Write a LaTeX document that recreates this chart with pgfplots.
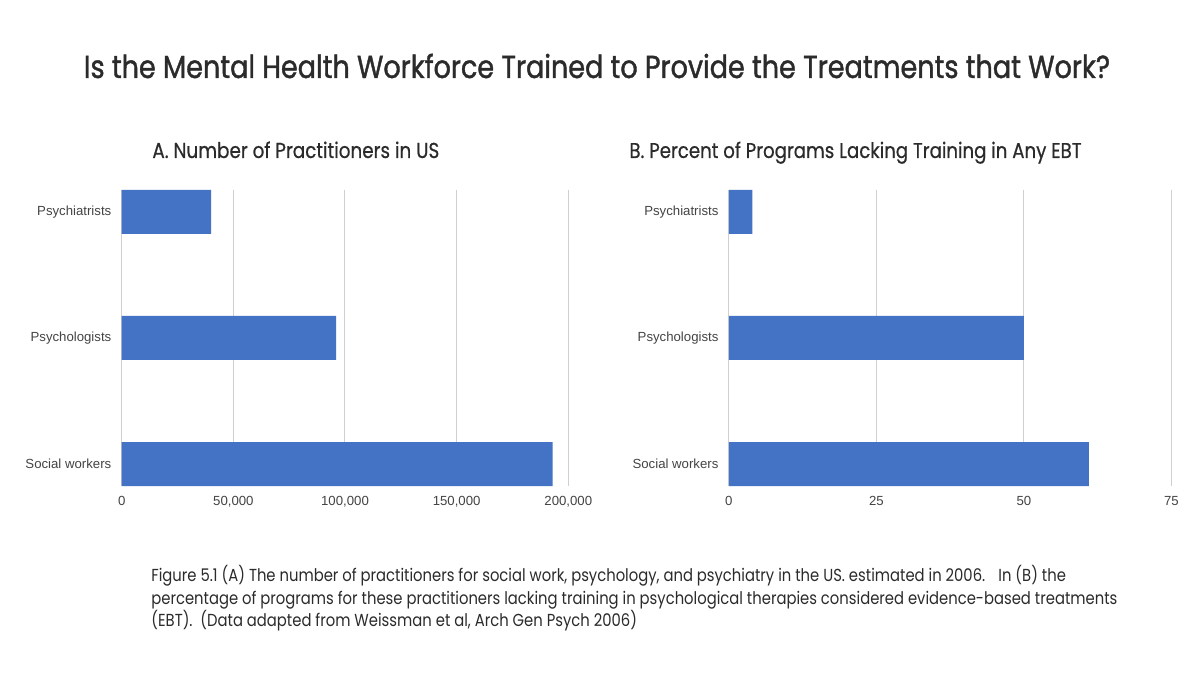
\documentclass[border=0pt]{standalone}
\usepackage{fontspec}
\usepackage{pgfplots}
\pgfplotsset{compat=1.18}
\setmainfont{Liberation Sans}
\newfontfamily\futura[FakeStretch=0.85]{Poppins}
\newfontfamily\futuramed[FakeStretch=0.85,FakeBold=1.2]{Poppins}
\newfontfamily\futurasub[FakeStretch=0.85,FakeBold=0.5]{Poppins}
\definecolor{barblue}{HTML}{4472C4}
\definecolor{gridgray}{HTML}{D0D0D0}
\definecolor{ticktext}{HTML}{444444}
\definecolor{titletext}{HTML}{2B2B2B}
\pgfplotsset{
  panel/.style={
    anchor=south west, scale only axis, height=148pt,
    xbar, bar width=22pt,
    ymin=-0.1746, ymax=2.1746, y dir=reverse,
    ytick={0,1,2}, yticklabels={Psychiatrists,Psychologists,Social workers},
    xmajorgrids, major grid style={color=gridgray, line width=0.5pt},
    axis line style={draw=none}, major tick length=0pt,
    tick label style={font=\fontsize{6.6}{8}\selectfont, text=ticktext},
    yticklabel style={inner sep=0pt, xshift=-5pt},
    xticklabel style={inner sep=0pt, yshift=-5pt},
    scaled x ticks=false,
    clip=false,
  }
}
\begin{document}
\begin{tikzpicture}
\path[use as bounding box, fill=white] (0,0) rectangle (600pt,337.5pt);
\node[anchor=base, inner sep=0pt, text=titletext, font=\futuramed\fontsize{15.9}{18}\selectfont] at (298.5pt,298.5pt) {Is the Mental Health Workforce Trained to Provide the Treatments that Work?};
\node[anchor=base west, inner sep=0pt, text=titletext, font=\futurasub\fontsize{10.8}{12}\selectfont] at (76pt,258.5pt) {A. Number of Practitioners in US};
\node[anchor=base west, inner sep=0pt, text=titletext, font=\futurasub\fontsize{10.7}{12}\selectfont] at (314.5pt,258.5pt) {B. Percent of Programs Lacking Training in Any EBT};

\begin{axis}[panel, at={(60.85pt,94.5pt)}, width=223.3pt,
  xmin=0, xmax=200000, xtick={0,50000,100000,150000,200000},
  xticklabels={0,{50,000},{100,000},{150,000},{200,000}}]
\addplot[fill=barblue, draw=none] coordinates {(40000,0) (96000,1) (193000,2)};
\end{axis}

\begin{axis}[panel, at={(364.4pt,94.5pt)}, width=221.35pt,
  xmin=0, xmax=75, xtick={0,25,50,75}, xticklabels={0,25,50,75}]
\addplot[fill=barblue, draw=none] coordinates {(4,0) (50,1) (61,2)};
\end{axis}

\begin{scope}[font=\futura\fontsize{8.7}{10}\selectfont, text=titletext]
\node[anchor=base west, inner sep=0pt] at (75.5pt,46.5pt) {Figure 5.1 (A) The number of practitioners for social work, psychology, and psychiatry in the US. estimated in 2006. \ \ In (B) the};
\node[anchor=base west, inner sep=0pt] at (75.5pt,35.25pt) {percentage of programs for these practitioners lacking training in psychological therapies considered evidence-based treatments};
\node[anchor=base west, inner sep=0pt] at (75.5pt,24pt) {(EBT). \ (Data adapted from Weissman et al, Arch Gen Psych 2006)};
\end{scope}
\end{tikzpicture}
\end{document}
